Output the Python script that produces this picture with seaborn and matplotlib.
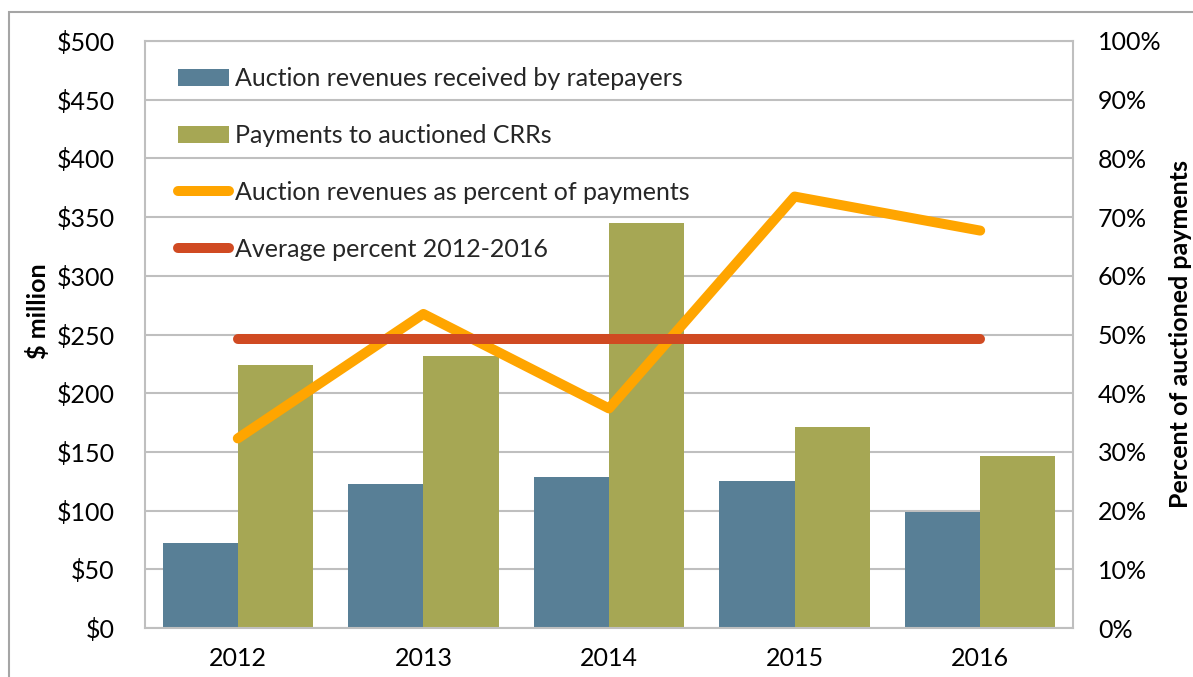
import numpy as np
import pandas as pd
import matplotlib
matplotlib.use("Agg")
import matplotlib.pyplot as plt
import seaborn as sns
from matplotlib.patches import Patch, Rectangle
from matplotlib.lines import Line2D
from matplotlib.ticker import FuncFormatter

# ---- data ----
years = ["2012", "2013", "2014", "2015", "2016"]
revenues = [72, 123, 129, 125.5, 99]          # $ million, auction revenues received by ratepayers
payments = [224, 232, 345, 171, 146.5]        # $ million, payments to auctioned CRRs
pct_of_payments = [32.3, 53.5, 37.4, 73.5, 67.7]  # percent
avg_pct = 49.2                                 # average percent 2012-2016
series_names = ["Auction revenues received by ratepayers",
                "Payments to auctioned CRRs",
                "Auction revenues as percent of payments",
                "Average percent 2012-2016"]
dollar_ticks = [0, 50, 100, 150, 200, 250, 300, 350, 400, 450, 500]
pct_ticks = [0, 10, 20, 30, 40, 50, 60, 70, 80, 90, 100]

# ---- style ----
BLUE = "#587F96"
GREEN = "#A6A754"
ORANGE = "#FFA500"
RED = "#D04A22"
GRID = "#BFBFBF"
FS = 18

sns.set_theme(style="white")
plt.rcParams["font.family"] = ["Lato", "DejaVu Sans"]

W, H = 1193, 677
fig = plt.figure(figsize=(W / 100, H / 100), dpi=100)
ax = fig.add_axes([145 / W, 49 / H, 928 / W, 587 / H])

df = pd.DataFrame({
    "year": years * 2,
    "value": revenues + payments,
    "series": [series_names[0]] * len(years) + [series_names[1]] * len(years),
})
sns.barplot(data=df, x="year", y="value", hue="series",
            palette=[BLUE, GREEN], saturation=1, width=0.81,
            linewidth=0, legend=False, ax=ax)

ax.set_xlim(-0.5, len(years) - 0.5)
ax.set_ylim(0, 500)
ax.set_yticks(dollar_ticks)
ax.yaxis.set_major_formatter(FuncFormatter(lambda v, p: f"${v:.0f}"))
ax.yaxis.grid(True, color=GRID, lw=1.5)
ax.set_axisbelow(True)
for s in ax.spines.values():
    s.set_color(GRID)
    s.set_linewidth(1.5)
ax.set_xlabel("")
ax.tick_params(axis="y", length=0, pad=22, labelsize=FS, labelcolor="black")
ax.tick_params(axis="x", which="major", length=0, pad=14, labelsize=FS, labelcolor="black")
ax.set_xticks(np.arange(-0.5, len(years)), minor=True)
ax.tick_params(axis="x", which="minor", direction="in", length=6, width=1.5, color=GRID)
ax.set_ylabel("$ million", fontsize=FS, fontweight="bold", color="black")
ax.yaxis.label.set_rotation_mode("default")
ax.yaxis.label.set_ha("center")
ax.yaxis.label.set_va("center")
ax.yaxis.set_label_coords((38 - 145) / 928, (628 - 311) / 587)

# ---- percent axis ----
ax2 = ax.twinx()
x_idx = np.arange(len(years))
sns.lineplot(x=x_idx, y=pct_of_payments, color=ORANGE, lw=7.2, sort=False, ax=ax2,
             solid_capstyle="round", solid_joinstyle="round")
sns.lineplot(x=x_idx, y=[avg_pct] * len(years), color=RED, lw=7.2, sort=False, ax=ax2,
             solid_capstyle="round")
ax2.set_ylim(0, 100)
ax2.set_xlim(-0.5, len(years) - 0.5)
ax2.set_yticks(pct_ticks)
ax2.yaxis.set_major_formatter(FuncFormatter(lambda v, p: f"{v:.0f}%"))
ax2.tick_params(axis="y", length=0, pad=18, labelsize=FS, labelcolor="black")
for s in ax2.spines.values():
    s.set_visible(False)
ax2.set_ylabel("Percent of auctioned payments", fontsize=FS, fontweight="bold",
               color="black", rotation=90)
ax2.yaxis.label.set_rotation_mode("default")
ax2.yaxis.label.set_ha("center")
ax2.yaxis.label.set_va("center")
ax2.yaxis.set_label_coords((1181 - 145) / 928, (628 - 334) / 587)

handles = [Patch(facecolor=BLUE, edgecolor="none"),
           Patch(facecolor=GREEN, edgecolor="none"),
           Line2D([], [], color=ORANGE, lw=7.2, solid_capstyle="round"),
           Line2D([], [], color=RED, lw=7.2, solid_capstyle="round")]
ax2.legend(handles, series_names, loc="upper left",
           bbox_to_anchor=(178 / W, (H - 67.5) / H), bbox_transform=fig.transFigure,
           frameon=False, fontsize=FS, handlelength=2.04, handleheight=0.64,
           handletextpad=0.24, labelspacing=1.35, borderpad=0, borderaxespad=0)

# outer chart border
fig.patches.append(Rectangle((9 / W, -0.1), 1.2, (H - 12) / H + 0.1,
                             transform=fig.transFigure, fill=False,
                             edgecolor="#A5A5A5", lw=1.5))

fig.savefig("out.png", dpi=100)
